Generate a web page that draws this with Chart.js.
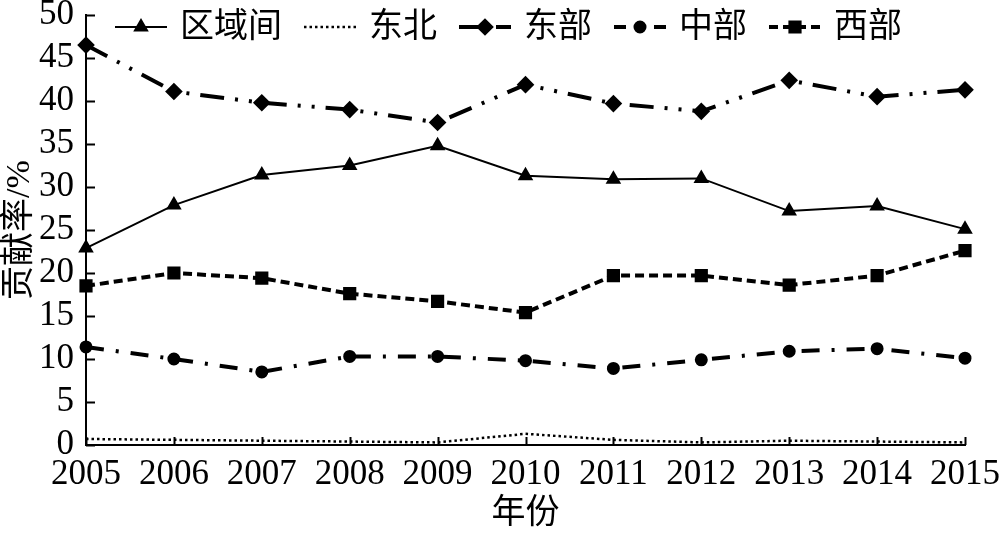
<!DOCTYPE html>
<html>
<head>
<meta charset="utf-8">
<script src="https://cdn.jsdelivr.net/npm/chart.js@4"></script>
<style>
  html, body { margin: 0; padding: 0; background: #fff; }
  #wrap { width: 1000px; height: 534px; }
</style>
</head>
<body>
<div id="wrap"><canvas id="myChart"></canvas></div>
<script>
const years = ["2005", "2006", "2007", "2008", "2009", "2010", "2011", "2012", "2013", "2014", "2015"];

const quyujian = [22.9, 27.9, 31.4, 32.5, 34.8, 31.3, 30.9, 31.0, 27.2, 27.8, 25.1];
const dongbei = [0.7, 0.6, 0.5, 0.4, 0.3, 1.3, 0.6, 0.3, 0.5, 0.4, 0.3];
const dongbu = [46.5, 41.1, 39.8, 39.0, 37.5, 41.9, 39.7, 38.8, 42.4, 40.5, 41.3];
const zhongbu = [11.4, 10.0, 8.5, 10.3, 10.3, 9.8, 8.9, 9.9, 10.9, 11.2, 10.1];
const xibu = [18.5, 20.0, 19.4, 17.6, 16.7, 15.4, 19.7, 19.7, 18.6, 19.7, 22.6];

const yTicks = [0, 5, 10, 15, 20, 25, 30, 35, 40, 45, 50];

const FONT = "'Liberation Serif', 'Noto Sans CJK SC', serif";

// ticks drawn on the inside of the axes, and the legend sitting inside the plot
const innerTicks = {
    id: "innerTicks",
    afterDraw(chart) {
        const c = chart.ctx;
        const a = chart.chartArea;
        const xs = chart.scales.x;
        const ys = chart.scales.y;
        c.save();
        c.strokeStyle = "#000";
        c.lineWidth = 2;
        c.beginPath();
        yTicks.forEach((v) => {
            const py = Math.round(ys.getPixelForValue(v)) + 0.5;
            c.moveTo(a.left, py);
            c.lineTo(a.left + 9, py);
        });
        years.forEach((y, i) => {
            const px = Math.round(xs.getPixelForValue(i)) + 0.5;
            c.moveTo(px, a.bottom);
            c.lineTo(px, a.bottom - 8);
        });
        c.stroke();
        c.restore();
    },
};

const legendInside = {
    id: "legendInside",
    afterDraw(chart) {
        const c = chart.ctx;
        let x = 115;
        const y = 27;
        c.save();
        c.font = "34px " + FONT;
        c.textBaseline = "middle";
        chart.data.datasets.forEach((ds) => {
            const w = 52;
            c.strokeStyle = "#000";
            c.lineWidth = ds.borderWidth;
            c.setLineDash(ds.legendDash || ds.borderDash || []);
            c.beginPath();
            c.moveTo(x, y);
            c.lineTo(x + w, y);
            c.stroke();
            c.setLineDash([]);
            if (ds.pointStyle && ds.pointRadius > 0) {
                Chart.helpers.drawPoint(c, {
                    pointStyle: ds.pointStyle,
                    radius: ds.pointRadius,
                    borderWidth: 1,
                    rotation: 0,
                }, x + w / 2, y);
                c.fillStyle = "#000";
                c.fill();
            }
            c.fillStyle = "#000";
            c.fillText(ds.label, x + w + 13, y + 1);
            x += w + 13 + c.measureText(ds.label).width + 22;
        });
        c.restore();
    },
};

const ctx = document.getElementById("myChart");

new Chart(ctx, {
    type: "line",
    data: {
        labels: years,
        datasets: [
            {
                label: "区域间",
                data: quyujian,
                borderColor: "#000",
                backgroundColor: "#000",
                borderWidth: 2,
                pointStyle: "triangle",
                pointRadius: 7,
            },
            {
                label: "东北",
                data: dongbei,
                borderColor: "#000",
                backgroundColor: "#000",
                borderWidth: 2.5,
                borderDash: [2.5, 3],
                pointRadius: 0,
            },
            {
                label: "东部",
                data: dongbu,
                borderColor: "#000",
                backgroundColor: "#000",
                borderWidth: 4,
                borderDash: [24, 11, 3, 11, 3, 11],
                legendDash: [20, 7, 3, 7],
                pointStyle: "rectRot",
                pointRadius: 6,
            },
            {
                label: "中部",
                data: zhongbu,
                borderColor: "#000",
                backgroundColor: "#000",
                borderWidth: 4,
                borderDash: [18, 12, 3, 12],
                legendDash: [12, 8],
                pointStyle: "circle",
                pointRadius: 4.5,
            },
            {
                label: "西部",
                data: xibu,
                borderColor: "#000",
                backgroundColor: "#000",
                borderWidth: 4,
                borderDash: [9, 5],
                legendDash: [9, 5],
                pointStyle: "rect",
                pointRadius: 6.5,
            },
        ],
    },
    options: {
        responsive: true,
        maintainAspectRatio: false,
        animation: false,
        layout: {
            padding: { left: 0, right: 35, top: 15, bottom: 0 },
        },
        elements: {
            line: { tension: 0, fill: false },
            point: { borderWidth: 0 },
        },
        plugins: {
            legend: { display: false },
            tooltip: { enabled: false },
        },
        scales: {
            x: {
                offset: false,
                grid: { display: false, drawTicks: false },
                border: { display: true, color: "#000", width: 2 },
                ticks: {
                    color: "#000",
                    font: { family: FONT, size: 35 },
                    padding: 9,
                    maxRotation: 0,
                    autoSkip: false,
                },
                title: {
                    display: true,
                    text: "年份",
                    color: "#000",
                    font: { family: FONT, size: 34 },
                    padding: { top: 0, bottom: 0 },
                },
                afterFit(scale) {
                    scale.height = 89;
                    scale.paddingRight = 0;
                    scale.paddingLeft = 0;
                },
            },
            y: {
                min: 0,
                max: 50,
                grid: { display: false, drawTicks: false },
                border: { display: true, color: "#000", width: 2 },
                ticks: {
                    stepSize: 5,
                    autoSkip: false,
                    color: "#000",
                    font: { family: FONT, size: 35 },
                    padding: 12,
                },
                title: {
                    display: true,
                    text: "贡献率/%",
                    color: "#000",
                    font: { family: FONT, size: 34 },
                    padding: { top: 0, bottom: 0 },
                },
                afterFit(scale) {
                    scale.width = 86;
                    scale.paddingTop = 0;
                    scale.paddingBottom = 0;
                },
            },
        },
    },
    plugins: [innerTicks, legendInside],
});
</script>
</body>
</html>
